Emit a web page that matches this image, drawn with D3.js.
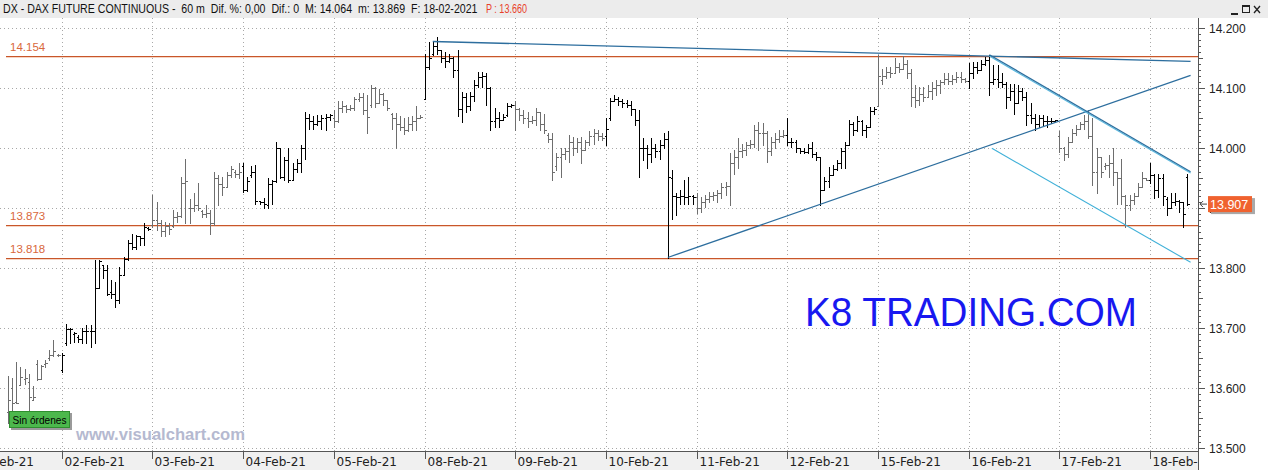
<!DOCTYPE html>
<html><head><meta charset="utf-8">
<script src="https://cdn.jsdelivr.net/npm/d3@7"></script>
<style>body{margin:0;background:#fff;overflow:hidden}svg{display:block}text{white-space:pre}</style>
</head><body>
<svg id="c" width="1268" height="470"></svg>
<script>
// ---------- DATA ----------
const dayLabels = ["01-Feb-21","02-Feb-21","03-Feb-21","04-Feb-21","05-Feb-21","08-Feb-21","09-Feb-21","10-Feb-21","11-Feb-21","12-Feb-21","15-Feb-21","16-Feb-21","17-Feb-21","18-Feb-21"];
const barsPerFullDay = 22;
const opens = [
[13560,13600,13578,13605,13615,13610,13580,13640,13615,13640,13650,13656,13655],
[13630,13676,13699,13690,13685,13683,13695,13695,13695,13767,13805,13797,13760,13758,13747,13789,13816,13843,13836,13853,13851,13867],
[13872,13880,13875,13862,13870,13870,13885,13888,13942,13900,13900,13905,13895,13890,13892,13875,13950,13940,13935,13955,13960,13958],
[13970,13931,13955,13960,13912,13910,13905,13940,13945,14000,13952,13980,13948,13965,13975,14000,14050,14045,14040,14045,14050,14052],
[14050,14045,14068,14070,14066,14068,14083,14085,14064,14072,14100,14075,14090,14080,14058,14050,14040,14035,14030,14040,14045,14050],
[14082,14135,14158,14170,14163,14150,14145,14150,14130,14065,14085,14070,14088,14105,14118,14120,14100,14045,14050,14048,14055,14070],
[14072,14065,14055,14050,14045,14048,14060,14040,14022,14015,13970,13985,13990,13995,14010,14000,14010,13998,14010,14020,14025,14020],
[14020,14050,14078,14083,14078,14075,14072,14065,14048,14000,14000,13990,14000,13995,14005,14015,13950,13920,13918,13920,13918,13920],
[13918,13900,13910,13915,13920,13922,13925,13935,13938,13975,13985,13995,13998,14005,14008,14030,14025,14025,13995,14010,14015,14020],
[14022,14011,14010,14000,13995,13994,14000,13990,13985,13930,13945,13955,13965,13975,13995,14005,14040,14030,14045,14030,14035,14062],
[14070,14114,14120,14128,14125,14135,14132,14140,14125,14085,14080,14090,14085,14095,14100,14105,14110,14115,14112,14115,14118,14115],
[14112,14125,14135,14130,14140,14148,14110,14115,14110,14108,14085,14095,14075,14095,14085,14055,14050,14040,14050,14045,14045,14046],
[14020,14000,13990,14010,14025,14032,14040,14045,14020,13960,13985,13970,13972,13975,13960,13950,13920,13905,13914,13920,13935,13950],
[13947,13955,13930,13950,13915,13900,13910,13912,13910,13953]];
const highs = [
[13620,13617,13644,13635,13632,13624,13604,13648,13639,13648,13664,13680,13657],
[13659,13708,13700,13694,13689,13700,13706,13706,13814,13814,13805,13805,13781,13778,13803,13819,13847,13858,13856,13853,13876,13869],
[13922,13911,13881,13878,13875,13897,13894,13953,13983,13916,13925,13942,13897,13905,13897,13961,13956,13953,13961,13970,13964,13975],
[13975,13953,13970,13972,13913,13917,13950,13947,14011,14000,13986,14000,13975,13983,14006,14061,14058,14053,14056,14056,14058,14058],
[14064,14078,14078,14072,14072,14086,14092,14092,14089,14106,14103,14098,14092,14080,14059,14059,14054,14051,14052,14053,14071,14055],
[14157,14178,14178,14185,14164,14161,14158,14153,14163,14094,14092,14094,14114,14128,14128,14125,14103,14067,14061,14058,14075,14074],
[14078,14067,14064,14061,14053,14068,14061,14058,14025,14025,13992,14000,14000,14022,14019,14017,14019,14014,14028,14033,14031,14025],
[14050,14084,14089,14086,14083,14081,14078,14065,14064,14017,14006,14017,14008,14014,14025,14028,13964,13925,13930,13947,13953,13922],
[13925,13919,13922,13928,13928,13930,13942,13944,13992,13997,14017,14008,14011,14014,14039,14044,14042,14028,14019,14025,14031,14030],
[14050,14017,14014,14000,14000,14008,14011,13994,13986,13953,13969,13972,13980,14000,14011,14047,14044,14053,14048,14039,14069,14069],
[14156,14133,14136,14136,14150,14142,14154,14147,14133,14105,14103,14103,14106,14111,14114,14114,14125,14125,14122,14128,14128,14117],
[14142,14144,14144,14147,14153,14156,14139,14139,14125,14111,14108,14108,14105,14100,14094,14075,14058,14055,14055,14053,14050,14048],
[14028,14003,14019,14033,14039,14044,14055,14064,14050,14000,13986,13975,13989,14000,13961,13983,13922,13922,13925,13942,13961,13950],
[13975,13958,13958,13958,13919,13925,13925,13914,13911,13957]];
const lows = [
[13542,13564,13575,13605,13607,13561,13580,13614,13615,13636,13648,13654,13654],
[13628,13672,13675,13678,13678,13675,13675,13669,13675,13767,13783,13756,13750,13736,13742,13789,13814,13833,13833,13839,13839,13864],
[13869,13864,13853,13853,13858,13869,13878,13886,13875,13875,13895,13897,13886,13886,13857,13872,13905,13922,13935,13953,13953,13950],
[13928,13929,13953,13908,13908,13900,13900,13908,13944,13950,13947,13944,13947,13961,13961,13983,14033,14033,14039,14033,14031,14047],
[14035,14044,14061,14061,14064,14064,14078,14058,14025,14069,14069,14075,14072,14064,14033,14001,14030,14024,14028,14031,14031,14050],
[14082,14133,14155,14158,14144,14136,14144,14119,14053,14044,14061,14064,14078,14103,14103,14072,14030,14036,14036,14047,14053,14069],
[14030,14047,14042,14036,14042,14039,14030,14025,14011,13947,13964,13953,13983,13978,13989,13994,13975,13998,14005,14008,14014,14014],
[14005,14047,14078,14072,14069,14069,14056,14039,13953,13981,13967,13978,13986,13983,14000,13818,13883,13889,13908,13908,13908,13908],
[13892,13894,13903,13911,13914,13911,13917,13922,13905,13958,13967,13986,13989,14000,14003,13998,14005,13978,13989,14000,14011,14019],
[14005,14003,13994,13992,13992,13992,13986,13980,13905,13930,13936,13955,13964,13967,13967,14005,14022,14028,14022,14019,14035,14058],
[14070,14108,14117,14119,14125,14128,14132,14117,14070,14069,14072,14078,14085,14083,14089,14092,14108,14108,14108,14111,14111,14111],
[14100,14117,14125,14130,14139,14089,14108,14103,14103,14067,14080,14058,14075,14080,14039,14042,14030,14036,14039,14036,14042,14045],
[13994,13980,13986,14010,14022,14032,14033,14017,13939,13925,13953,13965,13953,13939,13908,13908,13869,13897,13908,13920,13935,13947],
[13942,13917,13919,13906,13889,13900,13906,13894,13869,13905]];
const closes = [
[13580,13576,13576,13619,13617,13586,13586,13616,13637,13643,13656,13663,13656],
[13655,13699,13699,13692,13683,13695,13695,13695,13767,13812,13797,13758,13758,13747,13789,13816,13843,13836,13853,13851,13869,13866],
[13880,13875,13862,13870,13865,13885,13888,13942,13945,13900,13905,13900,13890,13892,13875,13950,13940,13935,13955,13965,13958,13960],
[13931,13945,13960,13912,13910,13908,13940,13945,14000,13952,13980,13948,13965,13975,14000,14050,14045,14040,14045,14050,14052,14055],
[14045,14068,14070,14066,14068,14083,14085,14064,14052,14100,14075,14090,14080,14068,14050,14040,14035,14030,14040,14045,14050,14052],
[14135,14150,14170,14163,14150,14145,14150,14130,14065,14085,14070,14088,14105,14118,14120,14100,14045,14050,14048,14052,14070,14072],
[14065,14055,14050,14045,14048,14060,14040,14030,14015,13960,13985,13990,13995,14010,14000,14010,13998,14010,14020,14025,14020,14018],
[14033,14078,14083,14078,14075,14072,14065,14048,14000,14000,13990,14000,13995,14005,14015,13952,13920,13918,13920,13918,13920,13918],
[13900,13910,13915,13920,13922,13925,13935,13938,13975,13985,13995,13998,14005,14008,14030,14025,14025,13995,14010,14015,14020,14022],
[14011,14010,14000,13995,13994,14000,13990,13985,13930,13945,13955,13965,13975,13995,14005,14040,14030,14045,14030,14035,14062,14065],
[14120,14120,14128,14125,14135,14132,14140,14125,14085,14080,14090,14085,14095,14100,14105,14110,14115,14112,14115,14118,14115,14113],
[14125,14135,14130,14140,14148,14110,14115,14110,14108,14085,14095,14075,14095,14085,14055,14050,14040,14050,14045,14045,14046,14047],
[14000,13990,14010,14025,14032,14040,14045,14020,13960,13985,13960,13972,13975,13960,13950,13920,13905,13914,13920,13935,13950,13947],
[13955,13930,13950,13920,13900,13910,13912,13910,13890,13907]];
const levels = [14154, 13873, 13818];
const yTicks = [13500,13600,13700,13800,13900,14000,14100,14200];
// trend lines: [bar index, price]
const trendTop = [[103.0,14178],[286.8,14145]];
const trendSupport = [[160,13818],[286.8,14121.7]];
const trendDown = [[238,14156],[286.8,13961]];
const trendChannel = [[238.6,14000],[286.8,13810]];
const lastPrice = 13907;
const headerMain = "DX - DAX FUTURE CONTINUOUS -  60 m  Dif. %: 0,00  Dif.: 0  M: 14.064  m: 13.869  F: 18-02-2021";
const headerPrice = "P : 13.660";

// ---------- LAYOUT ----------
const svg = d3.select("#c");
const PR = 1198, PT = 18, PB = 451;
const x = d3.scaleLinear().domain([-1.965, 288.6]).range([0, PR]);
const y = d3.scaleLinear().domain([13500, 14200]).range([448.3, 28.3]);
const fmt = v => (v/1000).toFixed(3);

const bars = [];
const dayStart = [];
let cursor = 0;
opens.forEach((row, d) => {
  dayStart.push(d === 0 ? row.length - barsPerFullDay : cursor);
  row.forEach((o, k) => {
    bars.push({i: cursor, d, o, h: highs[d][k], l: lows[d][k], c: closes[d][k]});
    cursor++;
  });
});

svg.append("rect").attr("width",1268).attr("height",470).attr("fill","#fff");
const defs = svg.append("defs");
defs.append("clipPath").attr("id","plot").append("rect")
  .attr("x",0).attr("y",PT).attr("width",PR).attr("height",PB-PT);
defs.append("clipPath").attr("id","xlab").append("rect")
  .attr("x",0).attr("y",PB).attr("width",PR).attr("height",470-PB);

// header
svg.append("rect").attr("width",1268).attr("height",PT).attr("fill","#ececec");
function fitText(str, x0, w, col){
  const t = svg.append("text").attr("x",0).attr("y",13).attr("font-family","Liberation Sans, Arial")
    .attr("font-size",12.5).attr("fill",col).text(str);
  const nat = t.node().getComputedTextLength();
  t.attr("transform",`translate(${x0},0) scale(${w/nat},1)`);
}
fitText(headerMain, 3, 475, "#111");
fitText(headerPrice, 486, 41, "#e8402a");
// window buttons
const wb = svg.append("g").attr("stroke","#222").attr("fill","none").attr("shape-rendering","crispEdges");
wb.append("line").attr("x1",1231).attr("x2",1238).attr("y1",13.5).attr("y2",13.5).attr("stroke-width",2);
wb.append("rect").attr("x",1242.5).attr("y",5.5).attr("width",7).attr("height",7);
wb.append("line").attr("x1",1242.5).attr("x2",1249.5).attr("y1",6.5).attr("y2",6.5);
wb.append("path").attr("d","M1254,6L1260,13M1260,6L1254,13").attr("shape-rendering","auto").attr("stroke-width",1.3);

// bottom strip
svg.append("rect").attr("x",0).attr("y",PB).attr("width",PR).attr("height",470-PB).attr("fill","#f0f0f0");
svg.append("line").attr("x1",0).attr("x2",PR).attr("y1",PB+0.5).attr("y2",PB+0.5).attr("stroke","#555");

const plot = svg.append("g").attr("clip-path","url(#plot)");
// grid
plot.append("g").selectAll("line").data(yTicks).join("line")
  .attr("x1",0).attr("x2",PR).attr("y1",d=>Math.round(y(d))+0.5).attr("y2",d=>Math.round(y(d))+0.5)
  .attr("stroke","#a8a8a8").attr("stroke-dasharray","1,3");
plot.append("g").selectAll("line").data(dayStart).join("line")
  .attr("x1",d=>Math.round(x(d))+0.5).attr("x2",d=>Math.round(x(d))+0.5).attr("y1",PT).attr("y2",PB)
  .attr("stroke","#a8a8a8").attr("stroke-dasharray","1,3");

// levels
levels.forEach(v => {
  const yy = Math.round(y(v));
  plot.append("line").attr("x1",6).attr("x2",PR).attr("y1",yy+1.5).attr("y2",yy+1.5).attr("stroke","#f6d5c4");
  plot.append("line").attr("x1",6).attr("x2",PR).attr("y1",yy+0.5).attr("y2",yy+0.5).attr("stroke","#c8562a").attr("stroke-width",1.2);
  svg.append("text").attr("x",10).attr("y",yy-5).attr("font-family","Liberation Sans, Arial").attr("font-size",11.5)
    .attr("fill","#d9683c").text(fmt(v));
});

// bars
const bg = plot.append("g").attr("shape-rendering","crispEdges");
bars.forEach(b => {
  const xx = Math.round(x(b.i)) + 0.5;
  const col = b.d % 2 === 1 ? "#000" : "#6e6e6e";
  const g = bg.append("g").attr("stroke", col);
  g.append("line").attr("x1",xx).attr("x2",xx).attr("y1",Math.round(y(b.h))).attr("y2",Math.round(y(b.l))+1);
  g.append("line").attr("x1",xx-2).attr("x2",xx).attr("y1",Math.round(y(b.o))+0.5).attr("y2",Math.round(y(b.o))+0.5);
  g.append("line").attr("x1",xx).attr("x2",xx+2.5).attr("y1",Math.round(y(b.c))+0.5).attr("y2",Math.round(y(b.c))+0.5);
});

// trend lines
const ln = d3.line().x(d=>x(d[0])).y(d=>y(d[1]));
function tl(pts, col, w, dy=0){
  plot.append("path").attr("d",ln(pts)).attr("fill","none").attr("stroke",col).attr("stroke-width",w)
    .attr("transform",`translate(0,${dy})`);
}
tl(trendTop,"#2d6e9e",1.3);
tl(trendSupport,"#2d6e9e",1.3);
tl(trendDown,"#5cbbe0",1.2,1.4);
tl(trendDown,"#2d6e9e",1.3);
tl(trendChannel,"#3fb0d8",1.1);

// right axis
svg.append("rect").attr("x",PR).attr("y",PT).attr("width",1268-PR).attr("height",470-PT).attr("fill","#fff");
svg.append("line").attr("x1",PR+0.5).attr("x2",PR+0.5).attr("y1",PT).attr("y2",470).attr("stroke","#555");
const minor = d3.range(13500, 14201, 10);
svg.append("g").attr("shape-rendering","crispEdges").selectAll("line").data(minor).join("line")
  .attr("x1",PR).attr("x2",d=> PR + (d%100===0 ? 7 : (d%50===0 ? 5 : 3)))
  .attr("y1",d=>Math.round(y(d))+0.5).attr("y2",d=>Math.round(y(d))+0.5).attr("stroke","#555");
svg.append("g").selectAll("text").data(yTicks).join("text")
  .attr("x",PR+11).attr("y",d=>y(d)+4.5).attr("font-family","Liberation Sans, Arial").attr("font-size",12)
  .attr("fill","#222").text(d=>fmt(d));

// x axis ticks/labels
const xa = svg.append("g").attr("clip-path","url(#xlab)");
dayStart.forEach((s,d) => {
  const xx = Math.round(x(s)) + 0.5;
  xa.append("line").attr("x1",xx).attr("x2",xx).attr("y1",PB).attr("y2",PB+8).attr("stroke","#555");
  xa.append("text").attr("x",xx+2).attr("y",PB+15).attr("font-family","DejaVu Sans, Verdana").attr("font-size",12)
    .attr("fill","#222").text(dayLabels[d]);
});

// last price marker
const yp = y(lastPrice);
svg.append("path").attr("d",`M${PR+2},${yp}L${PR+9},${yp}M${PR+2},${yp}l3,-3M${PR+2},${yp}l3,3`)
  .attr("stroke","#444").attr("fill","none");
svg.append("rect").attr("x",1211).attr("y",yp-6).attr("width",44).attr("height",16).attr("fill","#a9a9a9");
svg.append("rect").attr("x",1208).attr("y",yp-8).attr("width",44).attr("height",16).attr("fill","#f0622f");
svg.append("text").attr("x",1210).attr("y",yp+4.5).attr("font-family","Liberation Sans, Arial").attr("font-size",12.5)
  .attr("fill","#fff").text(fmt(lastPrice));

// watermark texts
svg.append("text").attr("x",805).attr("y",326).attr("font-family","Liberation Sans, Arial").attr("font-size",41)
  .attr("fill","#1818f0").attr("textLength",332).attr("lengthAdjust","spacingAndGlyphs").text("K8 TRADING.COM");
svg.append("text").attr("x",76).attr("y",440).attr("font-family","Liberation Sans, Arial").attr("font-weight","bold")
  .attr("font-size",16).attr("fill","#b5b9d0").attr("textLength",169).attr("lengthAdjust","spacingAndGlyphs").text("www.visualchart.com");

// "Sin órdenes" box
svg.append("rect").attr("x",11).attr("y",413).attr("width",61).attr("height",17).attr("fill","#9a9a9a");
svg.append("rect").attr("x",9.5).attr("y",411.5).attr("width",60).attr("height",16).attr("fill","#4cb84c").attr("stroke","#2f8f2f");
svg.append("text").attr("x",12.5).attr("y",424).attr("font-family","Liberation Sans, Arial").attr("font-size",11)
  .attr("fill","#000").attr("textLength",54).attr("lengthAdjust","spacingAndGlyphs").text("Sin órdenes");
</script>
</body></html>
